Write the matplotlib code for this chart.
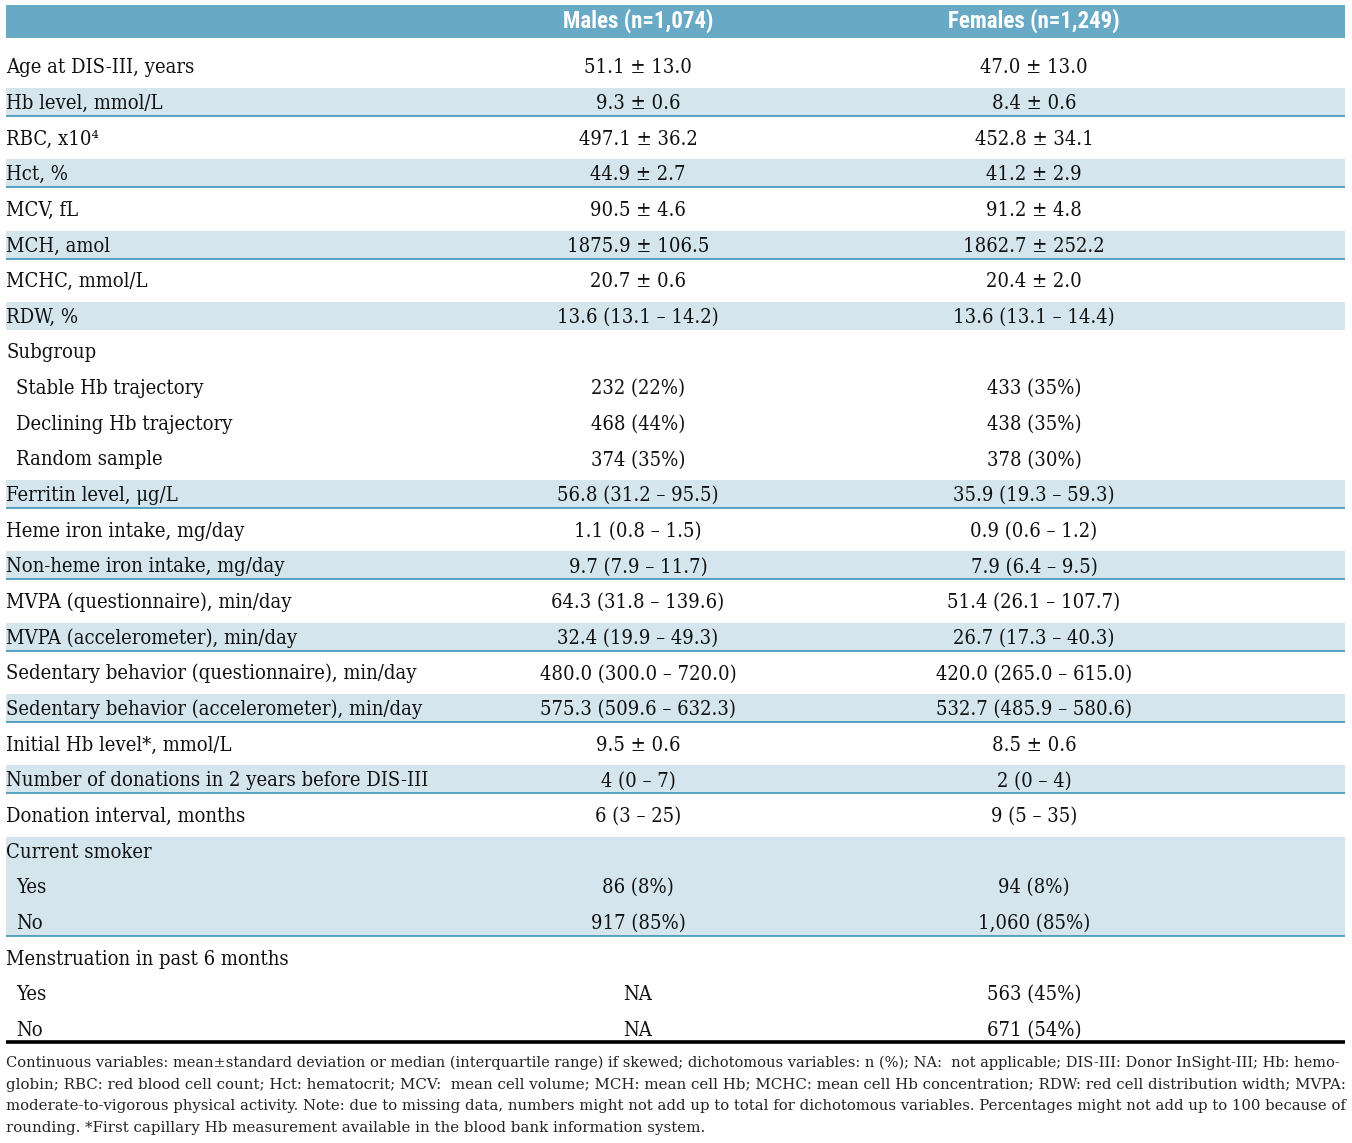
import matplotlib
matplotlib.use('Agg')
import matplotlib.pyplot as plt
from matplotlib.patches import Rectangle

# ---- table content ----
col_headers = ["Males (n=1,074)", "Females (n=1,249)"]

row_labels = [
    "Age at DIS-III, years", "Hb level, mmol/L", "RBC, x10\u2074", "Hct, %",
    "MCV, fL", "MCH, amol", "MCHC, mmol/L", "RDW, %",
    "Subgroup", "Stable Hb trajectory", "Declining Hb trajectory", "Random sample",
    "Ferritin level, \u03bcg/L", "Heme iron intake, mg/day", "Non-heme iron intake, mg/day",
    "MVPA (questionnaire), min/day", "MVPA (accelerometer), min/day",
    "Sedentary behavior (questionnaire), min/day", "Sedentary behavior (accelerometer), min/day",
    "Initial Hb level*, mmol/L", "Number of donations in 2 years before DIS-III",
    "Donation interval, months", "Current smoker", "Yes", "No",
    "Menstruation in past 6 months", "Yes", "No",
]

males = [
    "51.1 \u00b1 13.0", "9.3 \u00b1 0.6", "497.1 \u00b1 36.2", "44.9 \u00b1 2.7",
    "90.5 \u00b1 4.6", "1875.9 \u00b1 106.5", "20.7 \u00b1 0.6", "13.6 (13.1 \u2013 14.2)",
    "", "232 (22%)", "468 (44%)", "374 (35%)",
    "56.8 (31.2 \u2013 95.5)", "1.1 (0.8 \u2013 1.5)", "9.7 (7.9 \u2013 11.7)",
    "64.3 (31.8 \u2013 139.6)", "32.4 (19.9 \u2013 49.3)",
    "480.0 (300.0 \u2013 720.0)", "575.3 (509.6 \u2013 632.3)",
    "9.5 \u00b1 0.6", "4 (0 \u2013 7)", "6 (3 \u2013 25)",
    "", "86 (8%)", "917 (85%)",
    "", "NA", "NA",
]

females = [
    "47.0 \u00b1 13.0", "8.4 \u00b1 0.6", "452.8 \u00b1 34.1", "41.2 \u00b1 2.9",
    "91.2 \u00b1 4.8", "1862.7 \u00b1 252.2", "20.4 \u00b1 2.0", "13.6 (13.1 \u2013 14.4)",
    "", "433 (35%)", "438 (35%)", "378 (30%)",
    "35.9 (19.3 \u2013 59.3)", "0.9 (0.6 \u2013 1.2)", "7.9 (6.4 \u2013 9.5)",
    "51.4 (26.1 \u2013 107.7)", "26.7 (17.3 \u2013 40.3)",
    "420.0 (265.0 \u2013 615.0)", "532.7 (485.9 \u2013 580.6)",
    "8.5 \u00b1 0.6", "2 (0 \u2013 4)", "9 (5 \u2013 35)",
    "", "94 (8%)", "1,060 (85%)",
    "", "563 (45%)", "671 (54%)",
]

footnote = [
    "Continuous variables: mean\u00b1standard deviation or median (interquartile range) if skewed; "
    "dichotomous variables: n (%); NA:  not applicable; DIS-III: Donor InSight-III; Hb: hemo-",
    "globin; RBC: red blood cell count; Hct: hematocrit; MCV:  mean cell volume; MCH: mean cell Hb; "
    "MCHC: mean cell Hb concentration; RDW: red cell distribution width; MVPA:",
    "moderate-to-vigorous physical activity. Note: due to missing data, numbers might not add up to "
    "total for dichotomous variables. Percentages might not add up to 100 because of",
    "rounding. *First capillary Hb measurement available in the blood bank information system.",
]

# ---- styling ----
indented = [9, 10, 11, 23, 24, 26, 27]
shaded = [1, 3, 5, 7, 12, 14, 16, 18, 20, 22, 23, 24]
rule_below = [1, 3, 5, 12, 14, 16, 18, 20, 24]

HEAD_BG = '#68a9c5'
BAND = '#d4e5ee'
RULE = '#2e8bb2'

W, H = 1352, 1143
X0, X1 = 6, 1345
COL_X = [638, 1034]
BASE0, STEP = 73.3, 35.65

body_font = dict(family='DejaVu Serif', stretch='condensed')
head_font = dict(family='Roboto Condensed', weight='bold')
note_font = dict(family='DejaVu Serif')

fig = plt.figure(figsize=(W / 100, H / 100), dpi=100)
ax = fig.add_axes([0, 0, 1, 1])
ax.set_xlim(0, W)
ax.set_ylim(H, 0)
ax.axis('off')
renderer = fig.canvas.get_renderer()


def text_width(s, size, font):
    t = ax.text(0, 0, s, fontsize=size, **font)
    w = t.get_window_extent(renderer=renderer).width
    t.remove()
    return w


def fit_size(s, target, font):
    return 10 * target / text_width(s, 10, font)


body_size = fit_size("Sedentary behavior (accelerometer), min/day", 400 - X0, body_font) * 1.06
head_size = fit_size(col_headers[0], 150, head_font)
note_size = fit_size(footnote[-1], 702, note_font)

# header band
ax.add_patch(Rectangle((X0, 5), X1 - X0, 33, facecolor=HEAD_BG, edgecolor='none'))
for x, h in zip(COL_X, col_headers):
    ax.text(x, 28, h, ha='center', va='baseline', color='white', fontsize=head_size, **head_font)

# body rows
for i, (lab, m, f) in enumerate(zip(row_labels, males, females)):
    base = BASE0 + i * STEP
    if i in shaded:
        top = base - 21
        bottom = base + 7
        if i + 1 in shaded:
            bottom = BASE0 + (i + 1) * STEP - 21
        ax.add_patch(Rectangle((X0, top), X1 - X0, bottom - top, facecolor=BAND, edgecolor='none'))
    if i in rule_below:
        ax.plot([X0, X1], [base + 7, base + 7], color=RULE, lw=1.1, solid_capstyle='butt')
    x_lab = X0 + (10 if i in indented else 0)
    ax.text(x_lab, base, lab, ha='left', va='baseline', fontsize=body_size, color='#111111', **body_font)
    for x, v in zip(COL_X, (m, f)):
        if v:
            ax.text(x, base, v, ha='center', va='baseline', fontsize=body_size, color='#111111', **body_font)

# closing rule
ax.plot([X0, X1], [1041.5, 1041.5], color='black', lw=2.6, solid_capstyle='butt')

# footnote: full lines stretched to the column width, last line left as is
for k, line in enumerate(footnote):
    base = round(1067 + k * 21.7)
    size = note_size
    if k < len(footnote) - 1:
        size = min(fit_size(line, X1 - X0, note_font), note_size * 1.08)
    ax.text(X0, base, line, ha='left', va='baseline', fontsize=size, color='#222222', **note_font)

fig.savefig('out.png', dpi=100)
